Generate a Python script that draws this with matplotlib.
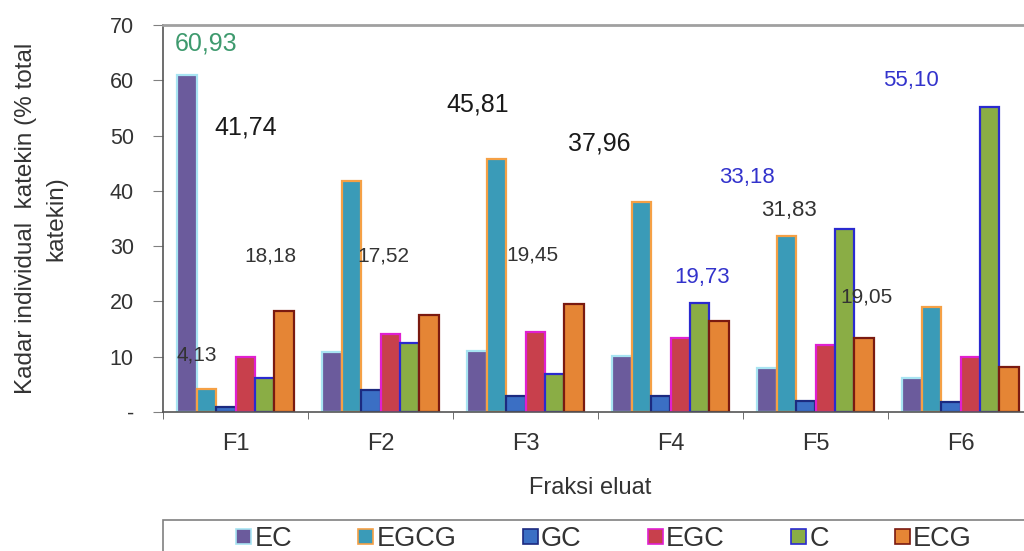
import numpy as np
import matplotlib.pyplot as plt
from matplotlib.patches import Patch, Rectangle

# Kadar katekin individual per fraksi eluat (% total katekin)
fractions = ['F1', 'F2', 'F3', 'F4', 'F5', 'F6']
series = ['EC', 'EGCG', 'GC', 'EGC', 'C', 'ECG']
ec = [60.93, 10.8, 11.0, 10.2, 7.9, 6.2]
egcg = [4.13, 41.74, 45.81, 37.96, 31.83, 19.05]
gc = [0.9, 4.0, 2.9, 2.9, 2.0, 1.8]
egc = [10.0, 14.1, 14.4, 13.3, 12.2, 10.0]
c = [6.2, 12.4, 6.9, 19.73, 33.18, 55.10]
ecg = [18.18, 17.52, 19.45, 16.4, 13.4, 8.2]

# (series, fraction index) of the bars that carry a value label
labelled = [('EC', 0), ('EGCG', 0), ('EGCG', 1), ('ECG', 0), ('ECG', 1),
            ('EGCG', 2), ('ECG', 2), ('EGCG', 3), ('C', 3), ('C', 4),
            ('EGCG', 4), ('EGCG', 5), ('C', 5)]

values = dict(zip(series, [ec, egcg, gc, egc, c, ecg]))

faces = ['#6B5B9C', '#3A9BB8', '#3B6FC4', '#C8404C', '#8AAD45', '#E58535']
edges = ['#A8E4F2', '#F5A045', '#1C2A80', '#E020D0', '#2A2ACF', '#7A1A10']

# label placement (data coords), colour, font size
label_style = [
    ((-0.20, 66.7), '#3E9A6E', 18),
    ((-0.27, 10.3), '#333333', 15),
    ((0.07, 51.5), '#1A1A1A', 18),
    ((0.24, 28.3), '#333333', 15),
    ((1.02, 28.3), '#333333', 15),
    ((1.67, 55.6), '#1A1A1A', 18),
    ((2.05, 28.4), '#333333', 15),
    ((2.51, 48.6), '#1A1A1A', 18),
    ((3.22, 24.4), '#3333CC', 16),
    ((3.53, 42.5), '#3333CC', 16),
    ((3.82, 36.5), '#333333', 16),
    ((4.35, 20.8), '#333333', 15),
    ((4.66, 60.0), '#3333CC', 16),
]

plt.rcParams['font.family'] = ['Liberation Sans', 'DejaVu Sans']

fig = plt.figure(figsize=(10.24, 5.51), dpi=100)
ax = fig.add_axes([163 / 1024, 1 - 412 / 551, 870 / 1024, 387 / 551])

x = np.arange(len(fractions))
width = 0.134
for i, name in enumerate(series):
    ax.bar(x + (i - 2.5) * width, values[name], width, color=faces[i],
           edgecolor=edges[i], linewidth=1.6, zorder=2, label=name)

for (name, k), (pos, col, size) in zip(labelled, label_style):
    txt = f"{values[name][k]:.2f}".replace('.', ',')
    ax.text(pos[0], pos[1], txt, ha='center', va='center', color=col,
            fontsize=size, zorder=3)

ax.set_xlim(-0.5, 5.5)
ax.set_ylim(0, 70)
ax.set_yticks(range(0, 71, 10))
ax.set_yticklabels(['-'] + [str(v) for v in range(10, 71, 10)])
ax.set_xticks(x)
ax.set_xticklabels(fractions)
ax.set_xticks(np.arange(-0.5, 6, 1), minor=True)
ax.tick_params(axis='y', direction='out', length=7, color='#808080',
               labelsize=15.5, labelcolor='#333333', pad=14)
ax.tick_params(axis='x', which='major', length=0, labelsize=17,
               labelcolor='#333333', pad=15)
ax.tick_params(axis='x', which='minor', direction='out', length=5,
               color='#555555')

for side in ['left', 'bottom']:
    ax.spines[side].set_color('#555555')
    ax.spines[side].set_linewidth(1.2)
ax.spines['top'].set_color('#A0A0A0')
ax.spines['top'].set_linewidth(2)
ax.spines['right'].set_visible(False)

ax.set_ylabel('Kadar individual  katekin (% total\nkatekin)', fontsize=17.5,
              color='#333333', linespacing=1.5)
ax.yaxis.set_label_coords(-0.11, 0.5)
fig.text(590 / 1024, 1 - 488 / 551, 'Fraksi eluat', ha='center',
         va='center', fontsize=17, color='#333333')

# legend frame runs off the bottom and right of the figure
fig.add_artist(Rectangle((163 / 1024, -0.2), 1.0, 0.2 + (1 - 520 / 551),
                         transform=fig.transFigure, facecolor='none',
                         edgecolor='#808080', linewidth=1.2))
handles = [Patch(facecolor=faces[i], edgecolor=edges[i], linewidth=1.2)
           for i in range(len(series))]
fig.legend(handles, series, loc='center', ncol=6,
           bbox_to_anchor=(604 / 1024, 1 - 539 / 551), frameon=False,
           fontsize=19.5, handlelength=0.55, handleheight=0.5,
           handletextpad=0.12, columnspacing=2.45, labelcolor='#333333')

fig.savefig('out.png', dpi=100)
